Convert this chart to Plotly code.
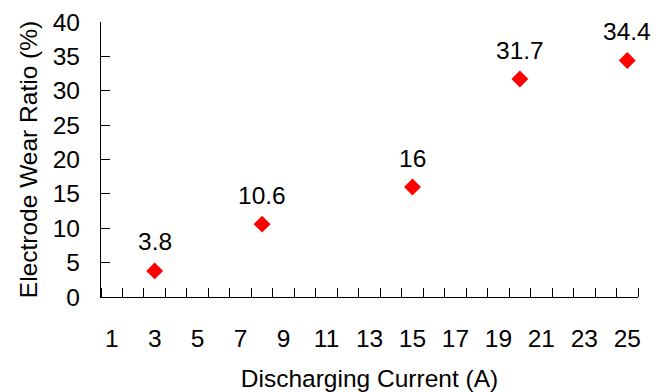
import plotly.graph_objects as go

current = [3, 8, 15, 20, 25]
wear_ratio = [3.8, 10.6, 16, 31.7, 34.4]
x_tick_vals = list(range(1, 26, 2))
x_tick_text = [str(v) for v in x_tick_vals]
y_tick_vals = list(range(0, 41, 5))

FONT = "Liberation Sans, Arial, Helvetica, sans-serif"
FS = 24.5

fig = go.Figure()
fig.add_trace(go.Scatter(
    x=current, y=wear_ratio, mode="markers",
    marker=dict(symbol="diamond", size=13, color="#ff0000", line=dict(width=0)),
    showlegend=False, cliponaxis=False,
))
for xv, yv in zip(current, wear_ratio):
    fig.add_annotation(x=xv, y=yv, text=f"{yv:g}", showarrow=False,
                       yshift=29, font=dict(size=FS, color="black", family=FONT))

fig.update_layout(
    width=662, height=392,
    margin=dict(l=101, r=24, t=22, b=95),
    paper_bgcolor="white", plot_bgcolor="white",
    font=dict(family=FONT, size=FS, color="black"),
    xaxis=dict(
        range=[0.5, 25.5], showgrid=False, zeroline=False, automargin=False,
        showline=True, linecolor="black", linewidth=1.2,
        tickmode="array", tickvals=x_tick_vals, ticktext=x_tick_text,
        ticks="", ticklabelstandoff=19,
        tickfont=dict(size=FS),
        minor=dict(tickmode="linear", tick0=0.5, dtick=1, ticks="inside",
                   ticklen=9, tickwidth=1.2, tickcolor="black", showgrid=False),
        title=dict(text="Discharging Current (A)", font=dict(size=FS), standoff=20),
    ),
    yaxis=dict(
        range=[0, 40], showgrid=False, zeroline=False, automargin=False,
        showline=True, linecolor="black", linewidth=1.2,
        tickmode="array", tickvals=y_tick_vals,
        ticks="inside", ticklen=9, tickwidth=1.2, tickcolor="black",
        ticklabelstandoff=15, tickfont=dict(size=FS),
        title=dict(text="Electrode Wear Ratio (%)", font=dict(size=FS), standoff=8),
    ),
)

fig.write_html("out.html")
